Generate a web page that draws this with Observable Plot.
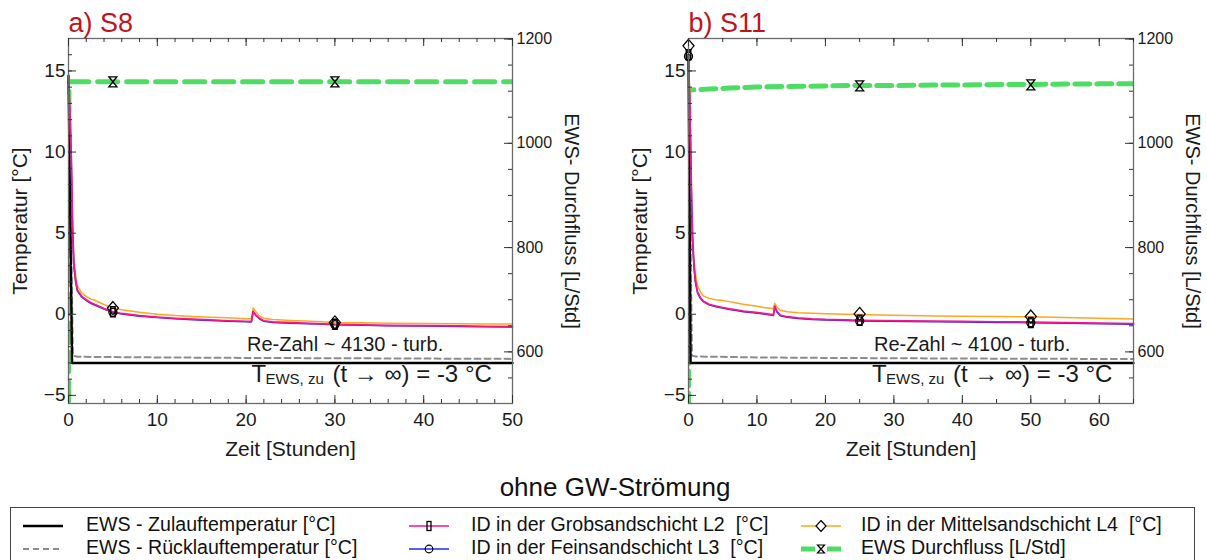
<!DOCTYPE html>
<html><head><meta charset="utf-8">
<script src="https://cdn.jsdelivr.net/npm/d3@7"></script>
<script src="https://cdn.jsdelivr.net/npm/@observablehq/plot@0.6"></script>
<style>
body{margin:0;background:#fff;font-family:"Liberation Sans",Arial,sans-serif;}
#wrap{position:relative;width:1207px;height:560px;overflow:hidden;}
.panel{position:absolute;top:0;}
#gw{position:absolute;left:0;width:1230px;top:472px;text-align:center;font-size:26px;line-height:30px;color:#111;}
#legend{position:absolute;left:10px;top:507px;width:1185px;height:70px;border:1px solid #444;box-sizing:border-box;}
.item{position:absolute;height:22px;font-size:19.6px;line-height:22px;color:#111;white-space:pre;}
.sw{position:absolute;}
</style></head><body>
<div id="wrap">
  <div class="panel" id="p1" style="left:0"></div>
  <div class="panel" id="p2" style="left:620px"></div>
  <div id="gw">ohne GW-Strömung</div>
  <div id="legend"></div>
</div>
<script>
// ---------- data ----------
const yDomain = [-5.5, 17];
const flowDomain = [501, 1201];
const tempMajor = [-5, 0, 5, 10, 15];
const flowMajor = [600, 800, 1000, 1200];

// S8
const s8Title = "a) S8";
const s8XDomain = [0, 50];
const s8XMajor = [0, 10, 20, 30, 40, 50];
const s8Time = [0,0.15,0.3,0.45,0.6,0.8,1,1.5,2,2.5,3,4,5,6,8,10,12,14,16,18,20,20.6,20.8,21.1,21.5,22,23,25,28,30,33,36,40,44,47,50];
const s8L2 = [14.7,12.5,10,5.5,3.1,2.1,1.5,1.1,0.9,0.72,0.6,0.35,0.15,0.05,-0.08,-0.18,-0.25,-0.3,-0.35,-0.4,-0.43,-0.44,0.15,-0.05,-0.25,-0.4,-0.47,-0.52,-0.58,-0.62,-0.65,-0.68,-0.7,-0.72,-0.74,-0.76];
const s8L3 = [14.5,12.3,9.8,5.3,3.0,2.0,1.45,1.05,0.85,0.68,0.55,0.32,0.12,0.02,-0.12,-0.2,-0.28,-0.33,-0.38,-0.43,-0.46,-0.47,0.18,-0.07,-0.28,-0.43,-0.5,-0.55,-0.6,-0.64,-0.67,-0.7,-0.73,-0.75,-0.77,-0.79];
const s8L4 = [14.7,12.7,10.3,6,3.5,2.4,1.75,1.3,1.1,0.95,0.85,0.6,0.38,0.28,0.12,0.0,-0.08,-0.13,-0.18,-0.22,-0.27,-0.28,0.4,0.15,-0.1,-0.25,-0.32,-0.38,-0.45,-0.5,-0.52,-0.55,-0.57,-0.58,-0.6,-0.6];
const s8ZuTime = [0, 0.4, 50];
const s8Zu = [14.7, -3.0, -3.0];
const s8RueTime = [0, 0.5, 1, 10, 20, 30, 40, 50];
const s8Rue = [14.6, -2.55, -2.62, -2.66, -2.69, -2.71, -2.73, -2.75];
const s8FlowTime = [0, 0.05, 50];
const s8Flow = [450, 1118, 1118];
const s8MarkTime = [5, 30];
const s8MarkL2 = [0.15, -0.62];
const s8MarkL3 = [0.12, -0.64];
const s8MarkL4 = [0.38, -0.5];
const s8MarkFlowTime = [5, 30];
const s8MarkFlow = [1118, 1118];
const s8Re = "Re-Zahl ~ 4130 - turb.";
const s8RePos = [20.1, -1.85];
const s8TPos = [20.6, -3.69];

// S11
const s11Title = "b) S11";
const s11XDomain = [0, 65];
const s11XMajor = [0, 10, 20, 30, 40, 50, 60];
const s11Time = [0,0.15,0.3,0.45,0.6,0.8,1,1.3,1.7,2.2,3,4,5,6,7,8,9.5,11,12.2,12.4,12.6,12.9,13.4,14.4,16,18,20,23,25,28,32,36,40,45,50,55,60,65];
const s11L2 = [16.0,13.5,10.5,7.0,4.6,3.0,2.1,1.4,1.05,0.8,0.62,0.5,0.42,0.33,0.27,0.2,0.13,0.05,-0.02,-0.03,0.5,0.2,-0.05,-0.15,-0.22,-0.28,-0.32,-0.35,-0.37,-0.39,-0.41,-0.42,-0.44,-0.46,-0.48,-0.51,-0.54,-0.57];
const s11L3 = [15.8,13.3,10.3,6.8,4.4,2.9,2.0,1.35,1.0,0.76,0.58,0.46,0.38,0.29,0.23,0.16,0.09,0.01,-0.06,-0.07,0.45,0.15,-0.09,-0.19,-0.26,-0.32,-0.36,-0.39,-0.41,-0.43,-0.45,-0.46,-0.48,-0.5,-0.52,-0.55,-0.58,-0.61];
const s11L4 = [16.3,14,11,7.5,5.0,3.4,2.5,1.8,1.4,1.12,0.98,0.9,0.85,0.78,0.7,0.62,0.52,0.42,0.35,0.35,0.68,0.45,0.25,0.15,0.1,0.07,0.04,0.0,-0.02,-0.05,-0.08,-0.1,-0.12,-0.14,-0.16,-0.2,-0.25,-0.29];
const s11ZuTime = [0, 0.3, 65];
const s11Zu = [16.0, -3.0, -3.0];
const s11RueTime = [0, 0.5, 1, 10, 20, 30, 40, 50, 65];
const s11Rue = [16.0, -2.55, -2.6, -2.66, -2.69, -2.71, -2.73, -2.74, -2.76];
const s11FlowTime = [0, 0.05, 1, 3, 6, 10, 15, 20, 25, 30, 40, 50, 60, 65];
const s11Flow = [450, 1102, 1103, 1104, 1106, 1108, 1109, 1110, 1111, 1111, 1112, 1113, 1114, 1114];
const s11MarkTime = [0, 25, 50];
const s11MarkL2 = [16.0, -0.37, -0.5];
const s11MarkL3 = [15.9, -0.41, -0.52];
const s11MarkL4 = [16.55, 0.02, -0.14];
const s11MarkFlowTime = [25, 50];
const s11MarkFlow = [1110, 1112];
const s11Re = "Re-Zahl ~ 4100 - turb.";
const s11RePos = [27.1, -1.85];
const s11TPos = [26.8, -3.69];

// ---------- styling ----------
const FONT = "'Liberation Sans', Arial, sans-serif";
const C = {pink: "#f5158c", blue: "#2626ff", orange: "#ffa51f", green: "#4fdc63", gray: "#8c8c8c", red: "#c0141c"};

const f2t = f => yDomain[0] + (f - flowDomain[0]) / (flowDomain[1] - flowDomain[0]) * (yDomain[1] - yDomain[0]);

const rad = size => Math.sqrt(size / Math.PI);
const symRect = {draw(c, s){ const r = rad(s), w = r*0.45; c.moveTo(-w,-r); c.lineTo(w,-r); c.lineTo(w,r); c.lineTo(-w,r); c.closePath(); }};
const symHour = {draw(c, s){ const r = rad(s), w = r*0.8; c.moveTo(-w,-r); c.lineTo(w,-r); c.lineTo(-w,r); c.lineTo(w,r); c.closePath(); }};
const symDia = {draw(c, s){ const r = rad(s), w = r*0.85; c.moveTo(0,-r); c.lineTo(w,0); c.lineTo(0,r); c.lineTo(-w,0); c.closePath(); }};
const symCirc = {draw(c, s){ const r = rad(s); c.moveTo(r,0); c.arc(0,0,r,0,2*Math.PI); }};

const rows = (ts, vs) => ts.map((t, i) => ({t, v: vs[i]}));
const frows = (ts, vs) => ts.map((t, i) => ({t, v: f2t(vs[i])}));

function panel(c) {
  const W = c.width, H = 470, mL = 68, mT = 38, mB = 67, innerH = 365, innerW = c.innerW;
  const mR = W - mL - innerW;
  const tempMinor = d3.range(-5, 17, 1);
  const flowMinor = d3.range(550, 1201, 50);
  const xMinor = d3.range(c.xDomain[0], c.xDomain[1] + 0.001, c.xMinorStep);
  return Plot.plot({
    width: W, height: H, marginLeft: mL, marginRight: mR, marginTop: mT, marginBottom: mB,
    x: {domain: c.xDomain, axis: null},
    y: {domain: yDomain, axis: null},
    style: {fontFamily: FONT, fontSize: "19px", color: "#1a1a1a", background: "transparent", overflow: "visible"},
    marks: [
      Plot.line(frows(c.flowT, c.flow), {x: "t", y: "v", stroke: C.green, strokeWidth: 5, strokeDasharray: c.dash, clip: true}),
      Plot.line(rows(c.rueT, c.rue), {x: "t", y: "v", stroke: C.gray, strokeWidth: 2, strokeDasharray: "6,4"}),
      Plot.line(rows(c.zuT, c.zu), {x: "t", y: "v", stroke: "#000", strokeWidth: 2.4}),
      Plot.line(rows(c.t, c.l4), {x: "t", y: "v", stroke: C.orange, strokeWidth: 1.5}),
      Plot.line(rows(c.t, c.l3), {x: "t", y: "v", stroke: C.blue, strokeWidth: 1.5}),
      Plot.line(rows(c.t, c.l2), {x: "t", y: "v", stroke: C.pink, strokeWidth: 1.7}),
      Plot.dot(rows(c.mT, c.mL3), {x: "t", y: "v", symbol: symCirc, r: 4, stroke: "#000", fill: "none", strokeWidth: 1.3}),
      Plot.dot(rows(c.mT, c.mL2), {x: "t", y: "v", symbol: symRect, r: 5, stroke: "#000", fill: "none", strokeWidth: 1.5}),
      Plot.dot(rows(c.mT, c.mL4), {x: "t", y: "v", symbol: symDia, r: 6.5, stroke: "#000", fill: "none", strokeWidth: 1.3}),
      Plot.dot(frows(c.mFT, c.mF), {x: "t", y: "v", symbol: symHour, r: 5, stroke: "#000", fill: "none", strokeWidth: 1.3}),
      Plot.frame({stroke: "#6a6a6a", strokeWidth: 1.3}),
      // ticks (inward)
      Plot.tickY(tempMinor, {y: d => d, insetRight: innerW - 4, stroke: "#333"}),
      Plot.tickY(tempMajor, {y: d => d, insetRight: innerW - 8, stroke: "#333"}),
      Plot.tickY(flowMinor, {y: d => f2t(d), insetLeft: innerW - 4, stroke: "#333"}),
      Plot.tickY(flowMajor, {y: d => f2t(d), insetLeft: innerW - 8, stroke: "#333"}),
      Plot.tickX(xMinor, {x: d => d, insetTop: innerH - 4, stroke: "#333"}),
      Plot.tickX(c.xMajor, {x: d => d, insetTop: innerH - 8, stroke: "#333"}),
      Plot.tickX(xMinor, {x: d => d, insetBottom: innerH - 4, stroke: "#333"}),
      Plot.tickX(c.xMajor, {x: d => d, insetBottom: innerH - 8, stroke: "#333"}),
      // tick labels
      Plot.axisY({ticks: tempMajor, tickSize: 0, tickPadding: 3, fontSize: 19, label: null}),
      Plot.axisX({ticks: c.xMajor, tickSize: 0, tickPadding: 9, fontSize: 19, label: null}),
      Plot.text(flowMajor, {y: d => f2t(d), text: d => String(d), frameAnchor: "right", textAnchor: "start", dx: 4, fontSize: 16}),
      // axis titles
      Plot.text(["Temperatur [°C]"], {text: d => d, frameAnchor: "left", textAnchor: "middle", lineAnchor: "middle", dx: -48, rotate: -90, fontSize: 21}),
      Plot.text(["EWS- Durchfluss [L/Std]"], {text: d => d, frameAnchor: "right", textAnchor: "middle", lineAnchor: "middle", dx: c.rightLabelDx, rotate: 90, fontSize: 20}),
      Plot.text(["Zeit [Stunden]"], {text: d => d, frameAnchor: "bottom", textAnchor: "middle", lineAnchor: "middle", dy: 46, fontSize: 21}),
      Plot.text([c.title], {text: d => d, frameAnchor: "top-left", textAnchor: "start", lineAnchor: "middle", dy: -15, fill: C.red, fontSize: 27}),
      // annotations
      Plot.text([c.rePos], {x: d => d[0], y: d => d[1], text: () => c.re, textAnchor: "start", fontSize: 20}),
      Plot.text([c.tPos], {x: d => d[0], y: d => d[1], text: () => "T", textAnchor: "start", fontSize: 24}),
      Plot.text([c.tPos], {x: d => d[0], y: d => d[1], text: () => "EWS, zu", textAnchor: "start", dx: 14, dy: 5, fontSize: 15}),
      Plot.text([c.tPos], {x: d => d[0], y: d => d[1], text: () => "(t \u2192 \u221E) = -3 °C", textAnchor: "start", dx: 81, fontSize: 24})
    ]
  });
}

document.getElementById("p1").append(panel({
  width: 600, innerW: 444, rightLabelDx: 59, dash: "20,9", xMinorStep: 2,
  title: s8Title, xDomain: s8XDomain, xMajor: s8XMajor,
  t: s8Time, l2: s8L2, l3: s8L3, l4: s8L4,
  zuT: s8ZuTime, zu: s8Zu, rueT: s8RueTime, rue: s8Rue,
  flowT: s8FlowTime, flow: s8Flow,
  mT: s8MarkTime, mL2: s8MarkL2, mL3: s8MarkL3, mL4: s8MarkL4, mFT: s8MarkFlowTime, mF: s8MarkFlow,
  re: s8Re, rePos: s8RePos, tPos: s8TPos
}));
document.getElementById("p2").append(panel({
  width: 587, innerW: 445, rightLabelDx: 59, dash: "15,7", xMinorStep: 5,
  title: s11Title, xDomain: s11XDomain, xMajor: s11XMajor,
  t: s11Time, l2: s11L2, l3: s11L3, l4: s11L4,
  zuT: s11ZuTime, zu: s11Zu, rueT: s11RueTime, rue: s11Rue,
  flowT: s11FlowTime, flow: s11Flow,
  mT: s11MarkTime, mL2: s11MarkL2, mL3: s11MarkL3, mL4: s11MarkL4, mFT: s11MarkFlowTime, mF: s11MarkFlow,
  re: s11Re, rePos: s11RePos, tPos: s11TPos
}));

// ---------- legend ----------
const legendLabels = [
  "EWS - Zulauftemperatur [°C]", "EWS - Rücklauftemperatur [°C]",
  "ID in der Grobsandschicht L2  [°C]", "ID in der Feinsandschicht L3  [°C]",
  "ID in der Mittelsandschicht L4  [°C]", "EWS Durchfluss [L/Std]"
];
const swatches = [
  `<line x1="0" x2="40" y1="6" y2="6" stroke="#000" stroke-width="2.4"/>`,
  `<line x1="0" x2="40" y1="6" y2="6" stroke="${C.gray}" stroke-width="2.2" stroke-dasharray="6,4"/>`,
  `<line x1="0" x2="40" y1="6" y2="6" stroke="${C.pink}" stroke-width="1.6"/><rect x="18" y="1.5" width="4" height="9" fill="none" stroke="#000" stroke-width="1.3"/>`,
  `<line x1="0" x2="40" y1="6" y2="6" stroke="${C.blue}" stroke-width="1.6"/><circle cx="20" cy="6" r="3.8" fill="none" stroke="#000" stroke-width="1.2"/>`,
  `<line x1="0" x2="40" y1="6" y2="6" stroke="${C.orange}" stroke-width="1.6"/><path d="M20,0.5L25,6L20,11.5L15,6Z" fill="#fff" stroke="#000" stroke-width="1.2"/>`,
  `<line x1="0" x2="14" y1="6" y2="6" stroke="${C.green}" stroke-width="5"/><line x1="26" x2="40" y1="6" y2="6" stroke="${C.green}" stroke-width="5"/><path d="M16.5,2L23.5,2L16.5,10L23.5,10Z" fill="none" stroke="#000" stroke-width="1.2"/>`
];
const legCols = [{sw: 12, tx: 75}, {sw: 398, tx: 460}, {sw: 790, tx: 850}];
const legRows = [5, 28];
const leg = document.getElementById("legend");
legendLabels.forEach((lab, i) => {
  const col = legCols[Math.floor(i / 2)], row = legRows[i % 2];
  const s = document.createElement("div");
  s.className = "sw"; s.style.left = col.sw + "px"; s.style.top = (row + 5) + "px";
  s.innerHTML = `<svg width="40" height="12">${swatches[i]}</svg>`;
  leg.append(s);
  const t = document.createElement("div");
  t.className = "item"; t.style.left = col.tx + "px"; t.style.top = row + "px";
  t.textContent = lab;
  leg.append(t);
});
</script>
</body></html>
